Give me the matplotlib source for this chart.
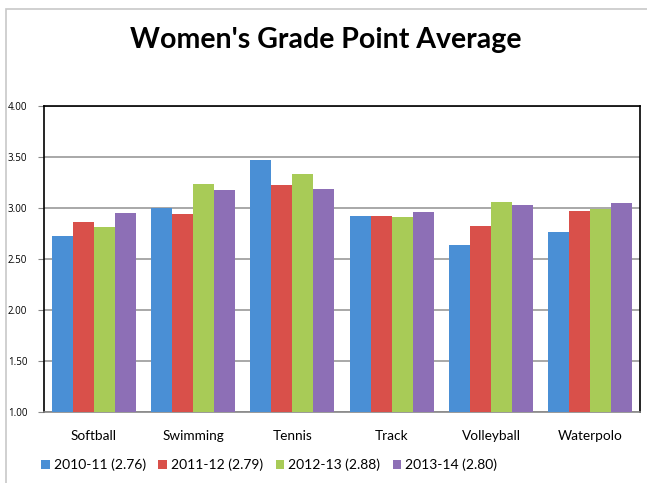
import numpy as np
import matplotlib.pyplot as plt
from matplotlib.patches import Rectangle

plt.rcParams['font.family'] = ['Lato', 'DejaVu Sans']

sports = ['Softball', 'Swimming', 'Tennis', 'Track', 'Volleyball', 'Waterpolo']
seasons = ['2010-11 (2.76)', '2011-12 (2.79)', '2012-13 (2.88)', '2013-14 (2.80)']
gpa_2010 = [2.72, 3.00, 3.47, 2.92, 2.63, 2.76]
gpa_2011 = [2.86, 2.94, 3.22, 2.92, 2.82, 2.97]
gpa_2012 = [2.81, 3.23, 3.33, 2.91, 3.06, 2.99]
gpa_2013 = [2.95, 3.17, 3.18, 2.96, 3.03, 3.05]
colors = ['#4a8fd5', '#d9504a', '#a8cb57', '#8d6fb6']

fig = plt.figure(figsize=(6.47, 4.83), dpi=100)
# outer chart border (light gray)
fig.patches.append(Rectangle((6/647, -0.1), 1.2, 1 - 9/483 + 0.1, transform=fig.transFigure,
                             fill=False, edgecolor='#c8c8c8', linewidth=1.2))

ax = fig.add_axes([44/647, 1 - 411.7/483, (640 - 44)/647, (411.7 - 105.7)/483])

x = np.arange(len(sports))
w = 0.212
for i, vals in enumerate([gpa_2010, gpa_2011, gpa_2012, gpa_2013]):
    ax.bar(x + (i - 1.5) * w, np.array(vals) - 1.0, w, bottom=1.0, color=colors[i],
           label=seasons[i], zorder=3)

ax.set_xlim(-0.5, len(sports) - 0.5)
ax.set_ylim(1.0, 4.0)
yt = np.arange(1.0, 4.01, 0.5)
ax.set_yticks(yt)
ax.set_yticklabels(['%.2f' % v for v in yt], fontsize=7, family='Open Sans')
ax.set_xticks(x)
ax.set_xticklabels(sports, fontsize=9.8)
ax.tick_params(axis='x', length=0, pad=13)
ax.tick_params(axis='y', length=4, direction='out', color='#888888', pad=8)
ax.grid(axis='y', color='#999999', linewidth=1.2, zorder=0)
for s in ['left', 'top', 'right']:
    ax.spines[s].set_color('black')
    ax.spines[s].set_linewidth(1.2)
ax.spines['bottom'].set_color('#888888')
ax.spines['bottom'].set_linewidth(1.2)

fig.text(0.503, 1 - 40/483, "Women's Grade Point Average", ha='center', va='center',
         fontsize=20.5, fontweight='bold')

leg = fig.legend(loc='center', bbox_to_anchor=(0.416, 1 - 465/483), ncol=4, frameon=False,
                 fontsize=10, handlelength=0.6, handleheight=0.6, handletextpad=0.3,
                 columnspacing=0.9)

fig.savefig('out.png', dpi=100)
